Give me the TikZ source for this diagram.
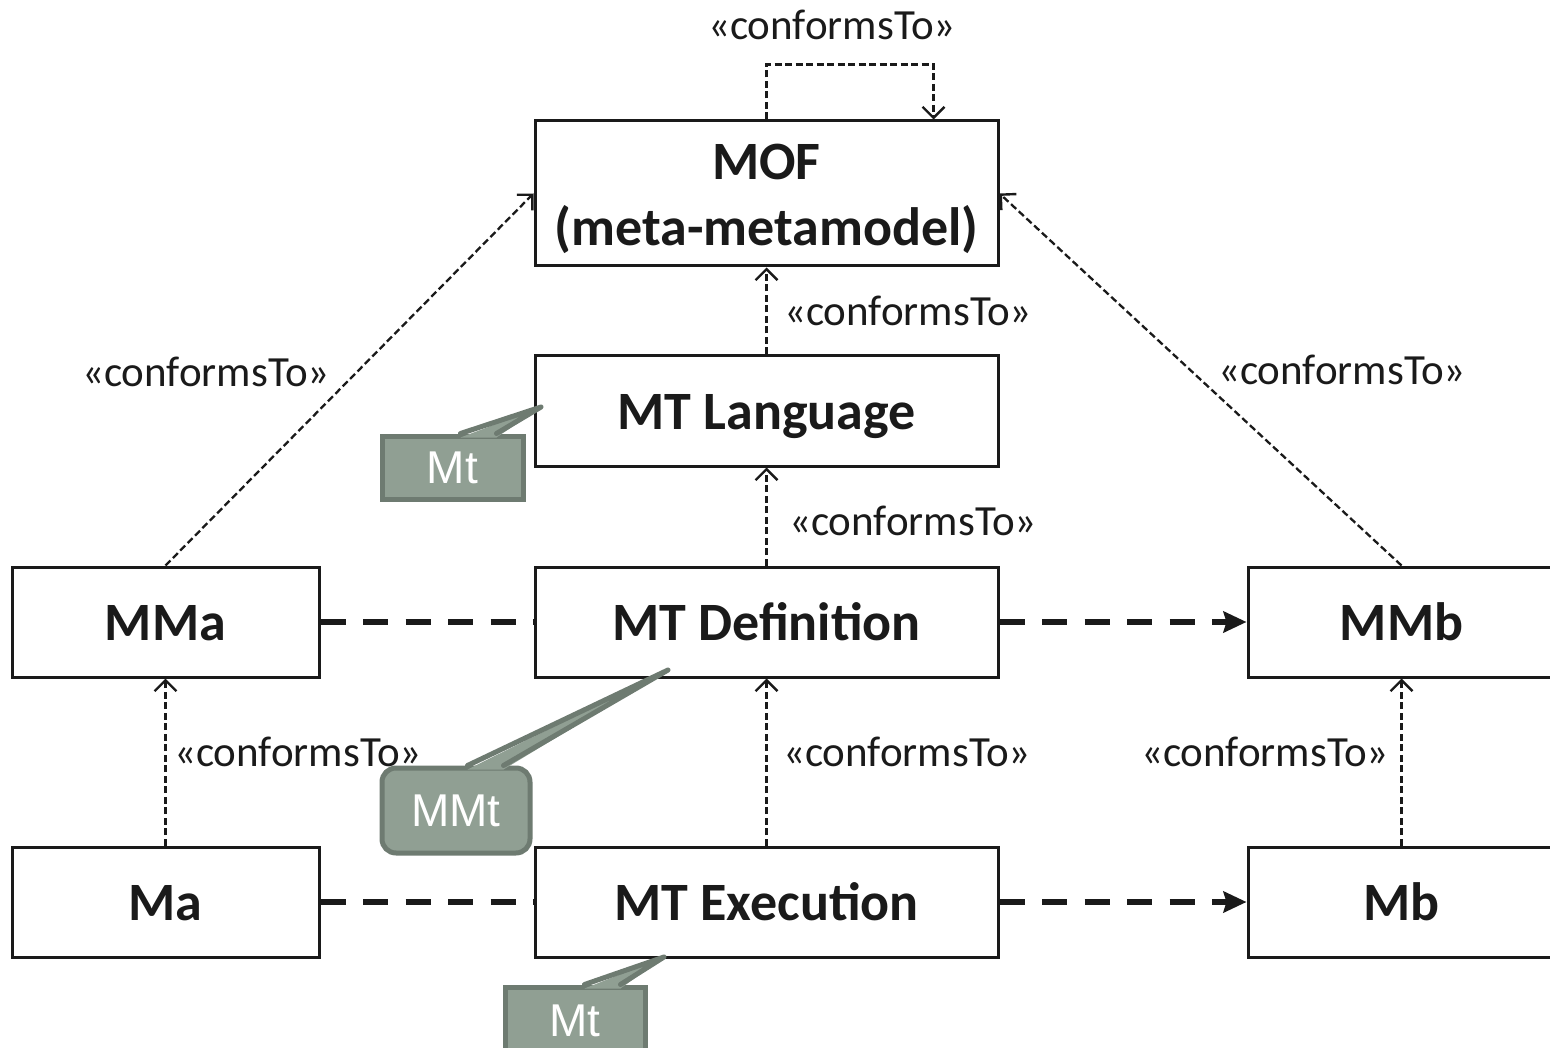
\documentclass[tikz,border=0pt]{standalone}
\usepackage{fontspec}
\setmainfont{Carlito}
\newfontfamily\callfont{Liberation Sans}
\usetikzlibrary{arrows.meta}

\definecolor{ink}{HTML}{1A1A1A}
\definecolor{callfill}{HTML}{909F93}
\definecolor{calledge}{HTML}{6E7B71}

\tikzset{
  box/.style={draw=ink, line width=3pt, inner sep=0pt, minimum height=110pt,
    font=\fontsize{54}{66}\selectfont\bfseries, text=ink, align=center,
    text height=40pt, text depth=3pt},
  wide/.style={minimum width=463pt},
  narrow/.style={minimum width=307pt},
  conf/.style={draw=ink, line width=2.3pt, dash pattern=on 7pt off 3.5pt,
    -{Straight Barb[length=11pt,width=22pt,line width=2.4pt]}},
  assoc/.style={draw=ink, line width=5.5pt, dash pattern=on 25pt off 17.5pt},
  assocarrow/.style={assoc, -{Stealth[length=23pt,width=21pt,inset=3pt]}},
  lbl/.style={font=\fontsize{43}{50}\selectfont, text=ink, inner sep=0pt},
  callbody/.style={fill=callfill, draw=calledge, line width=5pt, inner sep=0pt,
    font=\callfont\fontsize{46}{55}\selectfont, text=white},
  callfillpart/.style={fill=callfill},
  calledgepart/.style={draw=calledge, line width=5pt, line join=round, line cap=round},
}

\begin{document}
\begin{tikzpicture}[x=1pt,y=-1pt]
\useasboundingbox (0,0) rectangle (1550,1048);

% model boxes
\node[box, wide, minimum height=145pt, text height=104pt, text depth=0pt] (mof) at (766.5,193.5) {MOF\\(meta-metamodel)};
\node[box, wide] (mtl) at (766.5,411) {MT Language};
\node[box, wide] (mtd) at (766.5,622) {MT Definition};
\node[box, wide] (mte) at (766.5,902) {MT Execution};
\node[box, narrow] (mma) at (165.5,622) {MMa};
\node[box, narrow] (ma) at (165.5,902) {Ma};
\node[box, narrow] (mmb) at (1401.5,622) {MMb};
\node[box, narrow] (mb) at (1401.5,902) {Mb};

% conformsTo relations
\draw[conf] (mof.north) -- ++(0,-55) -| ([xshift=167pt]mof.north);
\draw[conf] (mtl) -- (mof);
\draw[conf] (mtd) -- (mtl);
\draw[conf] (mte) -- (mtd);
\draw[conf] (mma.north) -- (mof.west);
\draw[conf] (mmb.north) -- (mof.east);
\draw[conf] (ma) -- (mma);
\draw[conf] (mb) -- (mmb);

\node[lbl] (l0) at (832,25) {«conformsTo»};
\node[lbl] (l1) at (908,311) {«conformsTo»};
\node[lbl] (l2) at (913,521) {«conformsTo»};
\node[lbl] (l3) at (907,752) {«conformsTo»};
\node[lbl] (l4) at (206,372) {«conformsTo»};
\node[lbl] (l5) at (1342,370) {«conformsTo»};
\node[lbl] (l6) at (298,752) {«conformsTo»};
\node[lbl] (l7) at (1265,752) {«conformsTo»};

% transformation flow
\draw[assoc] (mma) -- (mtd);
\draw[assocarrow] (mtd) -- (mmb);
\draw[assoc] (ma) -- (mte);
\draw[assocarrow] (mte) -- (mb);

% callouts
\coordinate (t1) at (541,407);
\coordinate (t2) at (668,670);
\coordinate (t3) at (664,957);

\node[callbody, minimum width=141pt, minimum height=63pt] (c1) at (452.5,467.5) {Mt};
\fill[callfillpart] ([xshift=81pt,yshift=-4pt]c1.north west) -- (t1) -- ([xshift=117pt,yshift=-4pt]c1.north west) -- cycle;
\draw[calledgepart] ([xshift=81pt]c1.north west) -- (t1) -- ([xshift=117pt]c1.north west);

\node[callbody, rounded corners=14pt, minimum width=148pt, minimum height=85pt] (c2) at (456,810.5) {MMt};
\fill[callfillpart] ([xshift=88pt,yshift=-4pt]c2.north west) -- (t2) -- ([xshift=124pt,yshift=-4pt]c2.north west) -- cycle;
\draw[calledgepart] ([xshift=88pt]c2.north west) -- (t2) -- ([xshift=124pt]c2.north west);

\node[callbody, minimum width=140pt, minimum height=68pt] (c3) at (575,1021) {Mt};
\fill[callfillpart] ([xshift=82pt,yshift=-4pt]c3.north west) -- (t3) -- ([xshift=118pt,yshift=-4pt]c3.north west) -- cycle;
\draw[calledgepart] ([xshift=82pt]c3.north west) -- (t3) -- ([xshift=118pt]c3.north west);
\end{tikzpicture}
\end{document}
